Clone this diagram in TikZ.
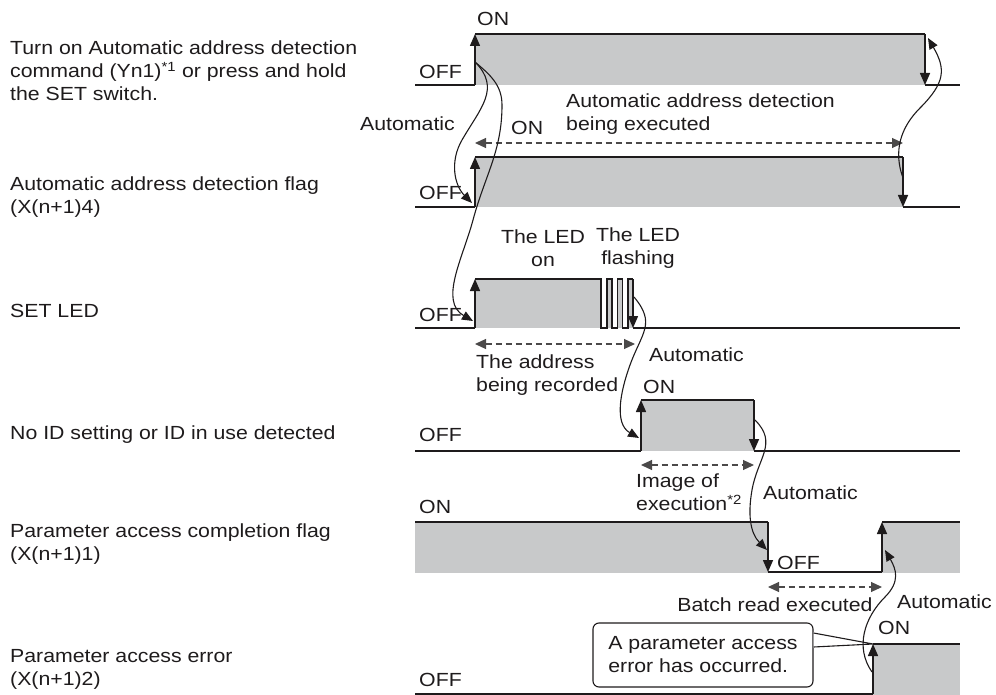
\documentclass[tikz,border=0pt]{standalone}
\usepackage{fontspec}
\setmainfont[FakeStretch=1.12]{Liberation Sans}
\usepackage{tikz}
\usetikzlibrary{arrows.meta}
\definecolor{ink}{RGB}{30,27,28}
\definecolor{hold}{RGB}{200,201,202}
\newcommand{\lblfont}{\fontsize{19pt}{23pt}\selectfont}
\tikzset{
  sig/.style={draw=ink, line width=1.5pt},
  tick/.style={sig, -{Triangle[length=12pt,width=10pt]}},
  hifill/.style={fill=hold},
  flow/.style={draw=ink, line width=1.1pt, -{Triangle[length=11pt,width=9pt]}},
  dspan/.style={draw=ink!80, line width=1.1pt, dash pattern=on 6pt off 4pt,
                {Triangle[length=11pt,width=10pt]}-{Triangle[length=11pt,width=10pt]}},
  lbl/.style={font=\lblfont, text=ink, inner sep=0pt, align=left},
  note/.style={draw=ink, line width=1.1pt, fill=white, rounded corners=6pt,
               font=\lblfont, text=ink, align=left,
               minimum width=220pt, minimum height=64pt},
}

\begin{document}
\begin{tikzpicture}[x=1pt, y=1pt]
  \useasboundingbox (0,0) rectangle (996,-695);
  % signal names
  \node[lbl, anchor=west] (n1) at (10,-71)
    {Turn on Automatic address detection\\command (Yn1)\textsuperscript{*1} or press and hold\\the SET switch.};
  \node[lbl, anchor=west] (n2) at (10,-197) {Automatic address detection flag\\(X(n+1)4)};
  \node[lbl, anchor=west] (n3) at (10,-311) {SET LED};
  \node[lbl, anchor=west] (n4) at (10,-435) {No ID setting or ID in use detected};
  \node[lbl, anchor=west] (n5) at (10,-544) {Parameter access completion flag\\(X(n+1)1)};
  \node[lbl, anchor=west] (n6) at (10,-669) {Parameter access error\\(X(n+1)2)};

  % high levels
  \fill[hifill] (475,-34) rectangle (925,-85);
  \fill[hifill] (475,-157) rectangle (903,-207);
  \fill[hifill] (475,-279) rectangle (601,-328);
  \foreach \p in {607,617.5,628}
    \fill[hifill] (\p,-279) rectangle (\p+5,-328);
  \fill[hifill] (641,-400) rectangle (754,-451);
  \fill[hifill] (415,-522) rectangle (768,-573);
  \fill[hifill] (882,-522) rectangle (960,-573);
  \fill[hifill] (873,-644) rectangle (960,-695);

  % edges
  \coordinate (r1up) at (475,-34);  \coordinate (r1dn) at (925,-85);
  \coordinate (r2up) at (475,-157); \coordinate (r2dn) at (903,-207);
  \coordinate (r3up) at (475,-279); \coordinate (r3dn) at (633,-328);
  \coordinate (r4up) at (641,-400); \coordinate (r4dn) at (754,-451);
  \coordinate (r5dn) at (768,-572); \coordinate (r5up) at (882,-522);
  \coordinate (r6up) at (873,-644);

  % row 1
  \draw[sig] (415,-85) -- (475,-85);
  \draw[tick] (475,-85) -- (r1up);
  \draw[sig] (r1up) -- (925,-34);
  \draw[tick] (925,-34) -- (r1dn);
  \draw[sig] (r1dn) -- (960,-85);
  % row 2
  \draw[sig] (415,-207) -- (475,-207);
  \draw[tick] (475,-207) -- (r2up);
  \draw[sig] (r2up) -- (903,-157);
  \draw[tick] (903,-157) -- (r2dn);
  \draw[sig] (r2dn) -- (960,-207);
  % row 3
  \draw[sig] (415,-328) -- (475,-328);
  \draw[tick] (475,-328) -- (r3up);
  \draw[sig] (r3up) -- (601,-279) -- (601,-328) -- (607,-328) -- (607,-279)
    -- (612,-279) -- (612,-328) -- (617.5,-328) -- (617.5,-279) -- (622.5,-279)
    -- (622.5,-328) -- (628,-328) -- (628,-279) -- (633,-279);
  \draw[tick] (633,-279) -- (r3dn);
  \draw[sig] (r3dn) -- (960,-328);
  % row 4
  \draw[sig] (415,-451) -- (641,-451);
  \draw[tick] (641,-451) -- (r4up);
  \draw[sig] (r4up) -- (754,-400);
  \draw[tick] (754,-400) -- (r4dn);
  \draw[sig] (r4dn) -- (960,-451);
  % row 5
  \draw[sig] (415,-522) -- (768,-522);
  \draw[tick] (768,-522) -- (r5dn);
  \draw[sig] (r5dn) -- (882,-572);
  \draw[tick] (882,-572) -- (r5up);
  \draw[sig] (r5up) -- (960,-522);
  % row 6
  \draw[sig] (415,-694) -- (873,-694);
  \draw[tick] (873,-694) -- (r6up);
  \draw[sig] (r6up) -- (960,-644);

  % level labels
  \node[lbl, anchor=west] (on1) at (477,-19) {ON};
  \node[lbl, anchor=west] (off1) at (419,-72) {OFF};
  \node[lbl, anchor=west] (on2) at (511,-128) {ON};
  \node[lbl, anchor=west] (off2) at (419,-193) {OFF};
  \node[lbl, anchor=west] (off3) at (419,-315) {OFF};
  \node[lbl, anchor=west] (on4) at (643,-387) {ON};
  \node[lbl, anchor=west] (off4) at (419,-435) {OFF};
  \node[lbl, anchor=west] (on5) at (419,-507) {ON};
  \node[lbl, anchor=west] (off5) at (777,-563) {OFF};
  \node[lbl, anchor=west] (on6) at (878,-628) {ON};
  \node[lbl, anchor=west] (off6) at (419,-680) {OFF};

  % spans
  \coordinate (s1a) at (475,-143); \coordinate (s1b) at (903,-143);
  \coordinate (s3a) at (475,-344); \coordinate (s3b) at (635,-344);
  \coordinate (s4a) at (641,-465); \coordinate (s4b) at (754,-465);
  \coordinate (s5a) at (768,-587); \coordinate (s5b) at (882,-587);
  \draw[dspan] (s1a) -- (s1b);
  \draw[dspan] (s3a) -- (s3b);
  \draw[dspan] (s4a) -- (s4b);
  \draw[dspan] (s5a) -- (s5b);
  \node[lbl, anchor=west] (t1) at (566,-114) {Automatic address detection\\being executed};
  \node[lbl, align=center] (led1) at (543,-248) {The LED\\on};
  \node[lbl, align=center] (led2) at (638,-248) {The LED\\flashing};
  \node[lbl, anchor=west] (t3) at (476,-375) {The address\\being recorded};
  \node[lbl, anchor=west] (t4) at (636,-492) {Image of\\execution\textsuperscript{*2}};
  \node[lbl] (t5) at (775,-605) {Batch read executed};

  % callout
  \node[note] (errnote) at (703,-655) {A parameter access\\error has occurred.};
  \fill[white] ([yshift=23pt]errnote.east) -- (r6up) -- ([yshift=7pt]errnote.east) -- cycle;
  \draw[ink, line width=1.1pt] ([yshift=22pt]errnote.east) -- (r6up) -- ([yshift=8pt]errnote.east);

  % automatic transitions
  \coordinate (a1) at (475,-62);
  \coordinate (a3) at (634,-297);
  \coordinate (a4) at (755,-420);
  \coordinate (a6) at (872,-672);
  \coordinate (a2) at (903,-178);
  \draw[flow] (a1) to[out=-45,in=60,looseness=1.2] (462,-140)
    to[out=-120,in=135] (472,-203);
  \draw[flow] (a1) to[out=-40,in=90] (502,-105) to[out=-90,in=75] (473,-220)
    to[out=-105,in=150] (473,-321);
  \draw[flow] (a2) to[out=110,in=-135] (920,-108)
    to[out=45,in=-60,looseness=1.3] (928,-38);
  \draw[flow] (a3) to[out=-50,in=70,looseness=1.3] (630,-365)
    to[out=-110,in=150] (639,-438);
  \draw[flow] (a4) to[out=-45,in=80,looseness=1.2] (752,-490)
    to[out=-100,in=135] (767,-550);
  \draw[flow] (a6) to[out=125,in=-135] (885,-597)
    to[out=45,in=-60,looseness=1.2] (885,-550);
  \node[lbl, anchor=east] (au1) at (455,-124) {Automatic};
  \node[lbl, anchor=west] (au3) at (649,-355) {Automatic};
  \node[lbl, anchor=west] (au4) at (763,-493) {Automatic};
  \node[lbl, anchor=west] (au5) at (897,-602) {Automatic};
\end{tikzpicture}
\end{document}
